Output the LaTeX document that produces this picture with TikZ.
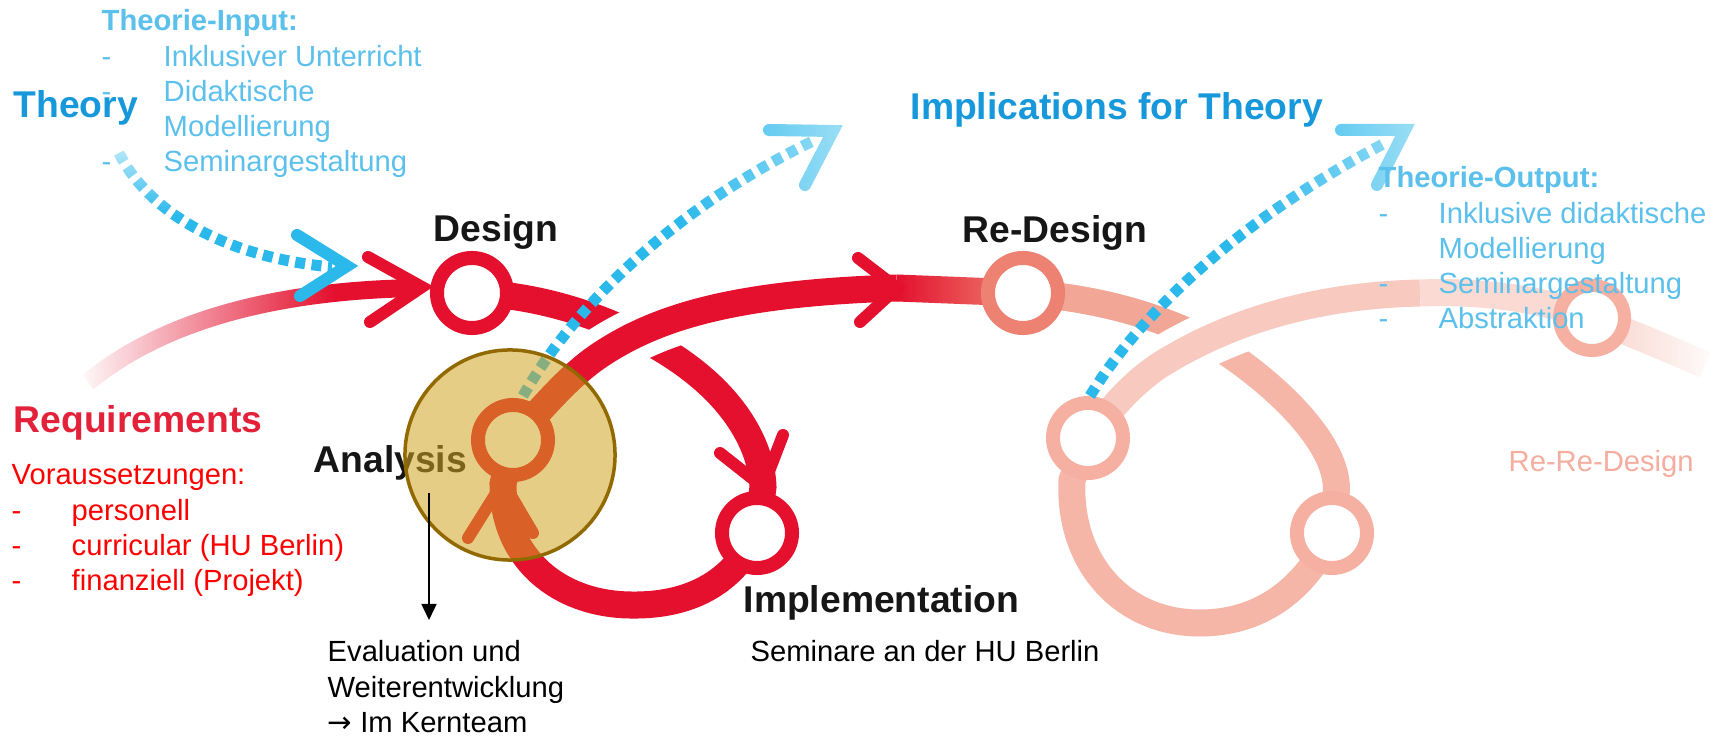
\documentclass[tikz,border=0pt]{standalone}
\usepackage{fontspec}
\setmainfont{Liberation Sans}
\newfontfamily\arrowfont{DejaVu Sans}
\usetikzlibrary{arrows.meta, positioning, fadings}

% colours of the cycle
\definecolor{dbrred}{RGB}{228,16,46}
\definecolor{redesign}{RGB}{238,130,114}
\definecolor{redesignlight}{RGB}{242,166,150}
\definecolor{loopsalmon}{RGB}{245,182,168}
\definecolor{loopup}{RGB}{248,202,191}
\definecolor{loopfaint}{RGB}{250,218,210}
\definecolor{ringsalmon}{RGB}{246,176,162}
\definecolor{dashblue}{RGB}{43,185,236}
\definecolor{theoryblue}{RGB}{22,152,218}
\definecolor{inputblue}{RGB}{91,192,235}
\definecolor{reqred}{RGB}{227,34,58}
\definecolor{reredesign}{RGB}{244,173,158}
\definecolor{stagegray}{RGB}{22,22,22}
\definecolor{goldfill}{RGB}{209,165,36}
\definecolor{goldline}{RGB}{145,105,0}

% white veils used to fade strokes out
\tikzfading[name=fade out right, left color=transparent!0, right color=transparent!100]
\tikzfading[name=fade in right, left color=transparent!100, right color=transparent!0]
\tikzfading[name=fade tip, left color=transparent!100, right color=transparent!45]
\tikzfading[name=fade top, top color=transparent!25, bottom color=transparent!100]

\begin{document}
\begin{tikzpicture}[
  x=0.01cm, y=-0.01cm,
  ring/.style={circle, draw=#1, line width=0.14cm, fill=white, inner sep=0pt, minimum size=0.70cm},
  band/.style={draw=#1, line width=0.27cm},
  casing/.style={draw=white, line width=0.54cm},
  barb/.style={draw=#1, line width=0.12cm, line cap=round, line join=miter},
  dashline/.style={draw=dashblue, line width=0.11cm, dash pattern=on 0.10cm off 0.065cm},
  stage/.style={font=\fontsize{10.6}{12.7}\selectfont\bfseries, inner sep=0pt, anchor=base west, text=stagegray},
  listtext/.style={font=\fontsize{8.3}{9.96}\selectfont, inner sep=0pt, anchor=base west},
  pointer/.style={-{Triangle[length=0.16cm, width=0.15cm]}, line width=0.45pt},
  highlight/.style={circle, draw=goldline, line width=0.035cm, fill=goldfill, fill opacity=0.55, inner sep=0pt, minimum size=2.10cm}
]

\useasboundingbox (0,0) rectangle (1723,737);
\fill[white] (0,0) rectangle (1723,737);

% Stations of the cycle
\coordinate (design) at (472,293);
\coordinate (analysis) at (513,440);
\coordinate (implement) at (757,533);
\coordinate (redesign) at (1023,293);
\coordinate (reanalysis) at (1088,438);
\coordinate (reimplement) at (1332,533);
\coordinate (rereDesign) at (1592,318);

% Incoming band from the requirements
\draw[band=dbrred, line width=0.18cm] (88,382) .. controls (170,315) and (290,290) .. (418,288);
\fill[white, path fading=fade out right] (75,265) rectangle (335,400);

% First loop: design -> implementation -> analysis
\draw[band=dbrred] (design) .. controls (560,295) and (660,335) .. (715,390)
  .. controls (745,420) and (762,455) .. (763,487) -- (implement);
\draw[band=dbrred] (implement) .. controls (730,590) and (680,606) .. (630,605)
  .. controls (560,604) and (503,560) .. (503,484) -- (analysis);

% Analysis -> re-design, crossing the first loop
\draw[casing] (600,355) .. controls (660,315) and (740,293) .. (897,288);
\draw[band=dbrred] (analysis) .. controls (545,405) and (570,375) .. (600,355)
  .. controls (660,315) and (740,293) .. (897,288);
\shade[left color=dbrred, right color=redesign] (897,274.5) -- (1023,279.5) -- (1023,306.5) -- (897,301.5) -- cycle;

% Second loop (faded)
\draw[band=loopsalmon] (redesign) .. controls (1110,298) and (1190,325) .. (1240,362)
  .. controls (1300,406) and (1345,460) .. (1335,500) -- (reimplement);
\draw[band=redesignlight] (redesign) .. controls (1088,297) and (1150,313) .. (1197,336);
\draw[band=loopsalmon] (reimplement) .. controls (1300,600) and (1250,623) .. (1200,623)
  .. controls (1120,623) and (1068,560) .. (1072,480) -- (reanalysis);
\draw[casing] (1160,365) .. controls (1240,315) and (1330,295) .. (1420,293);
\draw[band=loopup] (reanalysis) .. controls (1110,410) and (1130,385) .. (1160,365)
  .. controls (1240,315) and (1330,295) .. (1420,293);
\draw[band=loopfaint] (1420,293) .. controls (1500,290) and (1560,305) .. (rereDesign)
  .. controls (1630,333) and (1660,345) .. (1705,365);
\fill[white, path fading=fade in right] (1612,280) rectangle (1723,400);

% Arrow heads
\draw[barb=dbrred] (368,257) -- (422,287) -- (370,322);
\draw[barb=dbrred] (720,453) -- (763,487) -- (783,435);
\draw[barb=dbrred] (468,538) -- (503,482) -- (533,533);
\draw[barb=dbrred] (858,258) -- (897,288) -- (860,322);

% Rings
\node[ring=dbrred] (designRing) at (design) {};
\node[ring=dbrred] (analysisRing) at (analysis) {};
\node[ring=dbrred] (implementRing) at (implement) {};
\node[ring=redesign] (redesignRing) at (redesign) {};
\node[ring=ringsalmon] (reanalysisRing) at (reanalysis) {};
\node[ring=ringsalmon] (reimplementRing) at (reimplement) {};
\node[ring=ringsalmon, line width=0.13cm, minimum size=0.65cm] (rereRing) at (rereDesign) {};

% Theory in and out
\draw[dashline] (119,153) .. controls (150,215) and (230,258) .. (332,267);
\draw[barb=dashblue] (297,235) -- (347,266) -- (300,296);
\fill[white, path fading=fade top] (100,140) rectangle (205,215);

\draw[dashline] (analysisRing.north) ++(10,-2) .. controls (560,330) and (650,220) .. (815,140);
\draw[barb=dashblue] (769,130) -- (833,131) -- (805,185);
\fill[white, path fading=fade tip] (680,110) rectangle (850,235);

\draw[dashline] (reanalysisRing.north) ++(2,0) .. controls (1130,330) and (1220,230) .. (1385,143);
\draw[barb=dashblue] (1341,130) -- (1405,130) -- (1377,185);
\fill[white, path fading=fade tip] (1250,110) rectangle (1422,235);

% Analysis station, highlighted
\node[stage] (analysisLabel) at (313,473) {Analysis};
\node[highlight] (focus) at (510,455) {};

\coordinate (evalFrom) at (429,493);
\coordinate (evalTo) at (429,620);
\draw[pointer] (evalFrom) -- (evalTo);

% Stage labels
\node[stage, text=theoryblue] (theory) at (13,118) {Theory};
\node[stage, text=theoryblue] (implications) at (910,120) {Implications for Theory};
\node[stage] (designLabel) at (433,242) {Design};
\node[stage] (redesignLabel) at (962,243) {Re-Design};
\node[stage, text=reqred] (requirements) at (13,433) {Requirements};
\node[stage] (implementLabel) at (743,613) {Implementation};

% Notes
\node[listtext, text=inputblue] (theoryIn) at (101,31) {\begin{tabular}[t]{@{}p{0.62cm}@{}l@{}}
  \multicolumn{2}{@{}l@{}}{\bfseries Theorie-Input:}\\
  - & Inklusiver Unterricht\\
  - & Didaktische\\
    & Modellierung\\
  - & Seminargestaltung
\end{tabular}};
\node[listtext, text=inputblue] (theoryOut) at (1378,188) {\begin{tabular}[t]{@{}p{0.60cm}@{}l@{}}
  \multicolumn{2}{@{}l@{}}{\bfseries Theorie-Output:}\\
  - & Inklusive didaktische\\
    & Modellierung\\
  - & Seminargestaltung\\
  - & Abstraktion
\end{tabular}};
\node[listtext, text=red] (premises) at (11,485) {\begin{tabular}[t]{@{}p{0.60cm}@{}l@{}}
  \multicolumn{2}{@{}l@{}}{Voraussetzungen:}\\
  - & personell\\
  - & curricular (HU Berlin)\\
  - & finanziell (Projekt)
\end{tabular}};
\node[listtext] (evaluation) at (327,662) {\begin{tabular}[t]{@{}l@{}}
  Evaluation und\\
  Weiterentwicklung\\
  {\arrowfont →} Im Kernteam
\end{tabular}};
\node[listtext] (seminars) at (750,662) {Seminare an der HU Berlin};
\node[listtext, text=reredesign] (rereLabel) at (1508,472) {Re-Re-Design};

\end{tikzpicture}
\end{document}
